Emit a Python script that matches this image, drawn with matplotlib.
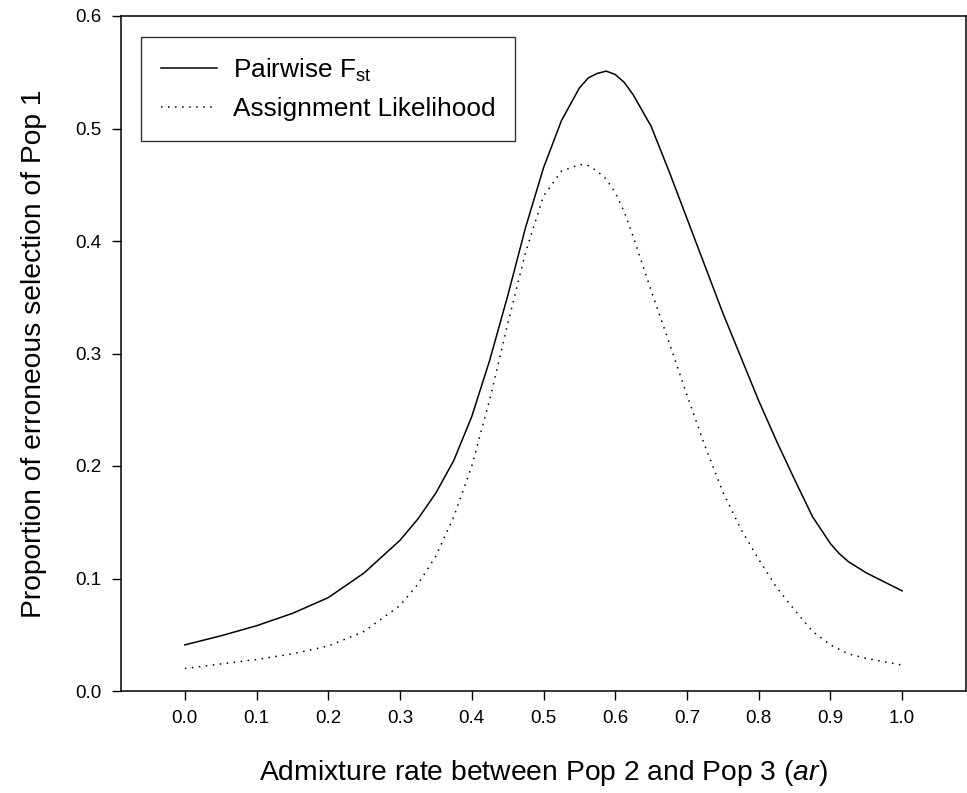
import matplotlib
matplotlib.use("Agg")
import matplotlib.pyplot as plt

plt.rcParams['font.family'] = ['Liberation Sans', 'DejaVu Sans']
plt.rcParams['mathtext.fontset'] = 'custom'
plt.rcParams['mathtext.rm'] = 'Liberation Sans'
plt.rcParams['mathtext.it'] = 'Liberation Sans:italic'

# Data
admix_rate = [0.0, 0.05, 0.1, 0.15, 0.2, 0.25, 0.3, 0.325, 0.35, 0.375, 0.4, 0.425, 0.45, 0.475,
              0.5, 0.525, 0.55, 0.5625, 0.575, 0.5875, 0.6, 0.6125, 0.625, 0.65, 0.675, 0.7,
              0.725, 0.75, 0.775, 0.8, 0.825, 0.85, 0.875, 0.9, 0.9125, 0.925, 0.95, 0.975, 1.0]
pairwise_fst = [0.041, 0.049, 0.058, 0.069, 0.083, 0.105, 0.134, 0.153, 0.176, 0.205, 0.244, 0.294,
                0.351, 0.412, 0.465, 0.507, 0.536, 0.545, 0.549, 0.551, 0.548, 0.541, 0.530,
                0.502, 0.462, 0.420, 0.378, 0.336, 0.297, 0.258, 0.222, 0.188, 0.155, 0.131,
                0.122, 0.115, 0.105, 0.097, 0.089]
assign_lik = [0.020, 0.024, 0.028, 0.033, 0.040, 0.053, 0.076, 0.095, 0.120, 0.155, 0.200, 0.259,
              0.326, 0.390, 0.440, 0.462, 0.468, 0.467, 0.462, 0.455, 0.443, 0.426, 0.404,
              0.356, 0.310, 0.263, 0.218, 0.177, 0.144, 0.117, 0.092, 0.072, 0.053, 0.041,
              0.037, 0.033, 0.029, 0.026, 0.023]

x_ticks = [0.0, 0.1, 0.2, 0.3, 0.4, 0.5, 0.6, 0.7, 0.8, 0.9, 1.0]
y_ticks = [0.0, 0.1, 0.2, 0.3, 0.4, 0.5, 0.6]

fig = plt.figure(figsize=(9.67, 7.93), dpi=100)
ax = fig.add_axes([121 / 967, 1 - 691 / 793, 845 / 967, 675 / 793])

ax.plot(admix_rate, pairwise_fst, color='black', lw=1.1, ls='-',
        label=r'Pairwise F$_{\mathrm{st}}$')
ax.plot(admix_rate, assign_lik, color='black', lw=1.1, ls=(0, (1, 3.6)),
        label='Assignment Likelihood')

ax.set_xlim(-0.089, 1.089)
ax.set_ylim(0, 0.6)
ax.set_xticks(x_ticks)
ax.set_yticks(y_ticks)
ax.set_xticklabels([f"{v:.1f}" for v in x_ticks])
ax.set_yticklabels([f"{v:.1f}" for v in y_ticks])
ax.tick_params(direction='out', length=6.5, width=1.0, labelsize=13.5, pad=7.5)

for sp in ax.spines.values():
    sp.set_linewidth(1.1)

ax.set_xlabel(r'Admixture rate between Pop 2 and Pop 3 ($\mathit{ar}$)', fontsize=20.3, va='center')
ax.set_ylabel('Proportion of erroneous selection of Pop 1', fontsize=20.3, va='center')
ax.xaxis.set_label_coords(0.5, -0.122)
ax.yaxis.set_label_coords(-0.103, 0.5)

leg = ax.legend(loc='upper left', bbox_to_anchor=(0.0237, 0.969), fontsize=18.9,
                frameon=True, fancybox=False, edgecolor='black', handlelength=2.15,
                handletextpad=0.61, borderpad=0.75, labelspacing=0.5, borderaxespad=0)
leg.get_frame().set_linewidth(1.0)

fig.savefig('out.png', dpi=100)
